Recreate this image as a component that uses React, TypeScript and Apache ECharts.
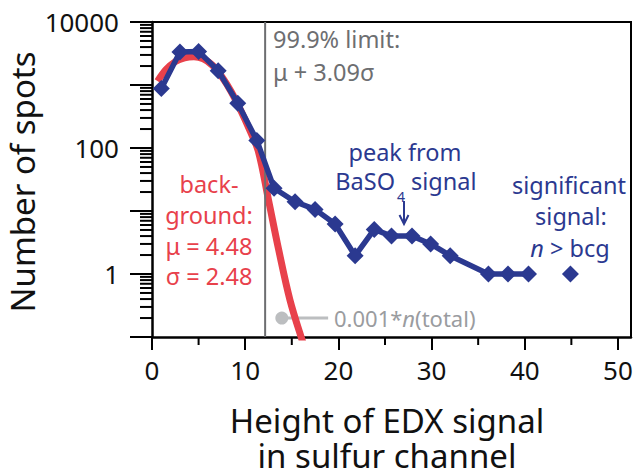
import React, { useEffect, useRef } from 'react';
import * as echarts from 'echarts';

// ---- axis ticks / labels ----
const xTickValues = [0, 10, 20, 30, 40, 50];
const xMinorTickValues = [5, 15, 25, 35, 45];
const yLabelValues = [1, 100, 10000];
const yDecades = [0.1, 1, 10, 100, 1000];
const yMinorMultipliers = [2, 3, 4, 5, 6, 7, 8, 9];
const xMin = 0;
const xMax = 51.4;
const yMin = 0.1;
const yMax = 10000;

// ---- measured histogram (blue) ----
const blueX = [1.0, 3.0, 5.0, 7.1, 9.2, 11.25, 13.1, 15.35, 17.5, 19.65, 21.8, 23.85, 25.7, 27.9, 29.9, 32.0, 36.1, 38.2, 40.4];
const blueY = [880, 3350, 3400, 1690, 515, 132, 23, 14, 10.6, 6.2, 1.95, 5.1, 4.0, 4.0, 3.0, 1.95, 1, 1, 1];
const outlierX = [44.9];
const outlierY = [1];

// ---- background fit (red) ----
const redX = [0.6, 1.5, 2.5, 3.5, 4.5, 5.5, 6.5, 7.5, 8.5, 9.5, 10.5, 11.4, 12.5, 13.6, 14.8, 16.1, 16.7];
const redY = [1150, 1750, 2350, 2700, 2800, 2600, 2050, 1350, 780, 400, 190, 90, 15, 2.4, 0.39, 0.09, 0.05];

// ---- 99.9% limit and 0.001*n(total) marker ----
const limitX = 12.14;
const thresholdX = [13.93, 18.9];
const thresholdY = 0.2;

const BLUE = '#2b3990';
const RED = '#e8414b';
const GRAY = '#6d6e71';
const LIGHT = '#bcbec0';
const LIGHT_TEXT = '#9a9c9f';
const FONT = '"Noto Sans", "Open Sans", sans-serif';
const ANN = 23.5;

const yMinorTicks: number[] = [];
yDecades.forEach((d) => yMinorMultipliers.forEach((m) => yMinorTicks.push(+(d * m).toPrecision(3))));

function txt(text: string, x: number, y: number, fill: string, size: number, align = 'center', extra: any = {}) {
  return {
    type: 'text',
    x,
    y,
    style: {
      text,
      fill,
      fontSize: size,
      fontFamily: FONT,
      align,
      verticalAlign: 'middle',
      ...extra,
    },
  };
}

const annotationTexts: any[] = [
  // axis titles
  { ...txt('Number of spots', 22, 182, '#111', 33), rotation: Math.PI / 2 },
  txt('Height of EDX signal\nin sulfur channel', 387, 438, '#111', 33, 'center', { lineHeight: 35 }),
  // limit annotation
  txt('99.9% limit:', 273, 39, GRAY, ANN, 'left'),
  txt('\u03bc + 3.09\u03c3', 273, 72, GRAY, ANN, 'left'),
  // background annotation
  txt('back-', 209, 184, RED, ANN),
  txt('ground:', 209, 215, RED, ANN),
  txt('\u03bc = 4.48', 209, 246, RED, ANN),
  txt('\u03c3 = 2.48', 209, 276, RED, ANN),
  // peak annotation
  txt('peak from', 405, 152, BLUE, ANN),
  txt('BaSO', 395, 181, BLUE, ANN, 'right'),
  txt('4', 397, 196, BLUE, 14, 'left'),
  txt('signal', 411, 181, BLUE, ANN, 'left'),
  { type: 'polyline', shape: { points: [[404, 201], [404, 223]] }, style: { stroke: BLUE, lineWidth: 2, fill: 'none' } },
  {
    type: 'polyline',
    shape: { points: [[399.5, 215], [404, 224], [408.5, 215]] },
    style: { stroke: BLUE, lineWidth: 2, fill: 'none' },
  },
  // significant annotation
  txt('significant', 569, 185, BLUE, ANN),
  txt('signal:', 571, 216, BLUE, ANN),
  txt('{i|n} > bcg', 570, 248, BLUE, ANN, 'center', {
    rich: { i: { fontStyle: 'italic', fontSize: ANN, fontFamily: FONT, fill: BLUE } },
  }),
  // threshold text
  txt('0.001*{i|n}(total)', 334, 318, LIGHT_TEXT, 22, 'left', {
    rich: { i: { fontStyle: 'italic', fontSize: 22, fontFamily: FONT, fill: LIGHT_TEXT } },
  }),
];

export default function App() {
  const ref = useRef<HTMLDivElement>(null);

  useEffect(() => {
    if (!ref.current) return;
    const chart = echarts.init(ref.current, null, { renderer: 'svg' });

    const axisLineStyle = { color: '#000', width: 2.5 };
    const option: any = {
      animation: false,
      grid: {
        left: 152,
        top: 22,
        right: 4,
        bottom: 133,
        containLabel: false,
        outerBoundsMode: 'none',
      },
      xAxis: {
        type: 'value',
        min: xMin,
        max: xMax,
        axisLine: { show: true, onZero: false, lineStyle: axisLineStyle },
        axisTick: { show: true, length: 13, lineStyle: { color: '#000', width: 2 }, customValues: xTickValues },
        axisLabel: { customValues: xTickValues, margin: 20, fontSize: 26, fontFamily: FONT, color: '#111' },
        splitLine: { show: false },
      },
      yAxis: {
        type: 'log',
        logBase: 10,
        min: yMin,
        max: yMax,
        axisLine: { show: true, onZero: false, lineStyle: axisLineStyle },
        axisTick: { show: true, length: 22, lineStyle: { color: '#000', width: 2 } },
        axisLabel: {
          margin: 33,
          fontSize: 26,
          fontFamily: FONT,
          color: '#111',
          formatter: (v: number) => {
            const hit = yLabelValues.find((l) => Math.abs(Math.log10(l) - Math.log10(v)) < 1e-6);
            return hit !== undefined ? String(hit) : '';
          },
        },
        splitLine: { show: false },
      },
      series: [
        {
          type: 'line',
          name: 'threshold',
          z: 1,
          silent: true,
          data: [
            { value: [thresholdX[0], thresholdY], symbol: 'circle', symbolSize: 13 },
            { value: [thresholdX[1], thresholdY], symbol: 'none' },
          ],
          itemStyle: { color: LIGHT, opacity: 1 },
          lineStyle: { color: LIGHT, width: 3 },
        },
        {
          type: 'line',
          name: 'background',
          z: 2,
          silent: true,
          smooth: 0.35,
          symbol: 'none',
          data: redX.map((x, i) => [x, redY[i]]),
          lineStyle: { color: RED, width: 7 },
        },
        {
          type: 'line',
          name: 'limit',
          z: 3,
          silent: true,
          symbol: 'none',
          data: [[limitX, yMin], [limitX, yMax]],
          lineStyle: { color: GRAY, width: 2 },
        },
        {
          type: 'line',
          name: 'measured',
          z: 4,
          silent: true,
          symbol: 'diamond',
          symbolSize: 17,
          data: blueX.map((x, i) => [x, blueY[i]]),
          itemStyle: { color: BLUE, opacity: 1 },
          lineStyle: { color: BLUE, width: 5.5 },
        },
        {
          type: 'scatter',
          name: 'outlier',
          z: 4,
          silent: true,
          symbol: 'diamond',
          symbolSize: 17,
          data: outlierX.map((x, i) => [x, outlierY[i]]),
          itemStyle: { color: BLUE, opacity: 1 },
        },
      ],
    };

    chart.setOption(option);

    // minor ticks (as thin filled bars) and the top/right frame, placed through the chart's own scales
    const tickEls: any[] = [];
    yMinorTicks.forEach((v) => {
      const p = chart.convertToPixel({ gridIndex: 0 }, [xMin, v]) as number[];
      tickEls.push({
        type: 'rect',
        z: 100,
        shape: { x: p[0] - 12, y: p[1] - 1, width: 12, height: 2 },
        style: { fill: '#000' },
      });
    });
    xMinorTickValues.forEach((v) => {
      const p = chart.convertToPixel({ gridIndex: 0 }, [v, yMin]) as number[];
      tickEls.push({
        type: 'rect',
        z: 100,
        shape: { x: p[0] - 1, y: p[1], width: 2, height: 8 },
        style: { fill: '#000' },
      });
    });
    const tl = chart.convertToPixel({ gridIndex: 0 }, [xMin, yMax]) as number[];
    const tr = chart.convertToPixel({ gridIndex: 0 }, [xMax, yMax]) as number[];
    const br = chart.convertToPixel({ gridIndex: 0 }, [xMax, yMin]) as number[];
    tickEls.push({
      type: 'polyline',
      shape: { points: [tl, tr, br] },
      style: { stroke: '#000', lineWidth: 2, fill: 'none' },
    });

    chart.setOption({ graphic: [...tickEls, ...annotationTexts] });
    return () => chart.dispose();
  }, []);

  return (
    <div
      ref={ref}
      style={{ position: 'fixed', left: 0, top: 0, width: 635, height: 470, background: '#fff' }}
    />
  );
}
